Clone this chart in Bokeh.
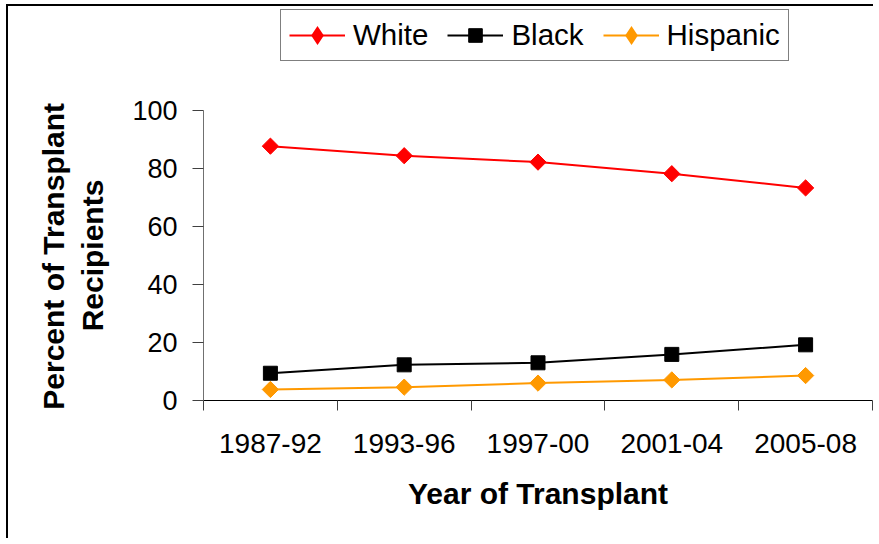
import math
from bokeh.plotting import figure
from bokeh.models import FixedTicker, Legend, LegendItem, Range1d, Title
from bokeh.embed import file_html
from bokeh.resources import INLINE

categories = ["1987-92", "1993-96", "1997-00", "2001-04", "2005-08"]
white = [87.7, 84.4, 82.2, 78.2, 73.3]
black = [9.4, 12.3, 13.0, 15.9, 19.2]
hispanic = [3.8, 4.6, 6.0, 7.1, 8.6]
y_ticks = [0, 20, 40, 60, 80, 100]
y_title_lines = ["Percent of Transplant", "Recipients"]

xs = [i + 0.5 for i in range(len(categories))]
FONT = "Liberation Sans"

FRAME_H = 392          # frame reaches up to hold the legend
AXIS_PX = 290          # pixels spanned by 0..100
y_end = 100 * FRAME_H / AXIS_PX

p = figure(
    frame_width=669, frame_height=FRAME_H,
    min_border_left=195, min_border_right=1, min_border_top=2, min_border_bottom=138,
    output_backend="svg", toolbar_location=None,
    x_range=Range1d(0, len(categories)), y_range=Range1d(0, y_end),
    styles={"margin-left": "6px", "margin-top": "4px",
            "border-left": "2px solid black", "border-top": "2px solid black"},
)
p.outline_line_color = None
p.xgrid.visible = False
p.ygrid.visible = False
p.background_fill_color = "white"
p.border_fill_color = "white"

# x axis: labels at centers, ticks at category boundaries (minor ticks)
xa = p.xaxis[0]
xa.ticker = FixedTicker(ticks=xs, minor_ticks=list(range(len(categories) + 1)))
xa.major_label_overrides = {x: c for x, c in zip(xs, categories)}
xa.major_tick_line_color = None
xa.major_tick_out = 0
xa.major_tick_in = 0
xa.minor_tick_out = 10
xa.minor_tick_in = 0
xa.minor_tick_line_color = "#404040"
xa.axis_line_color = "black"
xa.major_label_text_font = FONT
xa.major_label_text_font_size = "28px"
xa.major_label_text_color = "black"
xa.major_label_standoff = 23
xa.axis_label = "Year of Transplant"
xa.axis_label_text_font = FONT
xa.axis_label_text_font_size = "30px"
xa.axis_label_text_font_style = "bold"
xa.axis_label_text_color = "black"
xa.axis_label_standoff = 21

ya = p.yaxis[0]
ya.ticker = FixedTicker(ticks=y_ticks, minor_ticks=[])
ya.bounds = (0, 100)
ya.major_tick_out = 11
ya.major_tick_in = 0
ya.major_tick_line_color = "#404040"
ya.axis_line_color = "#707070"
ya.major_label_text_font = FONT
ya.major_label_text_font_size = "27px"
ya.major_label_text_color = "black"
ya.major_label_standoff = 15
# blank spacer label: widens the axis panel so the title lines sit further left
ya.axis_label = " "
ya.axis_label_text_font_size = "10px"
ya.axis_label_standoff = 5

# y title: two lines, each centred on the 0..100 span (frame extends higher)
TITLE_PX = 30
EM = {"P": .667, "e": .556, "r": .389, "c": .556, "n": .611, "t": .333, " ": .278,
      "o": .611, "f": .333, "T": .611, "a": .556, "s": .556, "p": .611, "l": .278,
      "R": .722, "i": .278}
mid = AXIS_PX / 2
for line, standoff in zip(reversed(y_title_lines), [4, 4]):
    w = sum(EM.get(ch, .6) for ch in line) * TITLE_PX
    t = Title(text=line, align="left", offset=mid - w / 2, standoff=standoff,
              text_font=FONT, text_font_size=f"{TITLE_PX}px", text_font_style="bold",
              text_color="black")
    p.add_layout(t, "left")

RED = "#FF0000"
ORANGE = "#FF9900"
DIAMOND = math.pi / 4

lw = p.line(xs, white, line_color=RED, line_width=2)
lb = p.line(xs, black, line_color="black", line_width=2)
lh = p.line(xs, hispanic, line_color=ORANGE, line_width=2)

# diamond swatches for the legend (legend glyphs ignore marker rotation);
# drawn tiny underneath the rotated-square markers
kw_w = p.scatter(xs, white, marker="diamond", size=1, fill_color=RED, line_color=RED,
                 line_width=3, line_join="miter")
kw_h = p.scatter(xs, hispanic, marker="diamond", size=1, fill_color=ORANGE,
                 line_color=ORANGE, line_width=3, line_join="miter")

p.scatter(xs, white, marker="square", angle=DIAMOND, size=11.5,
          fill_color=RED, line_color=RED)
mb = p.scatter(xs, black, marker="square", size=14, fill_color="black", line_color="black")
p.scatter(xs, hispanic, marker="square", angle=DIAMOND, size=11.5,
          fill_color=ORANGE, line_color=ORANGE)

legend = Legend(
    items=[LegendItem(label="White", renderers=[lw, kw_w]),
           LegendItem(label="Black", renderers=[lb, mb]),
           LegendItem(label="Hispanic", renderers=[lh, kw_h])],
    orientation="horizontal",
    location=(77, 339),
    label_text_font=FONT, label_text_font_size="29.5px", label_text_color="black",
    glyph_width=56, glyph_height=34, label_height=34, label_standoff=8,
    spacing=19, padding=8, margin=0,
    border_line_color="black", border_line_width=1,
    background_fill_color="white", background_fill_alpha=1,
)
p.add_layout(legend, "center")

open("out.html", "w").write(file_html(p, INLINE))
